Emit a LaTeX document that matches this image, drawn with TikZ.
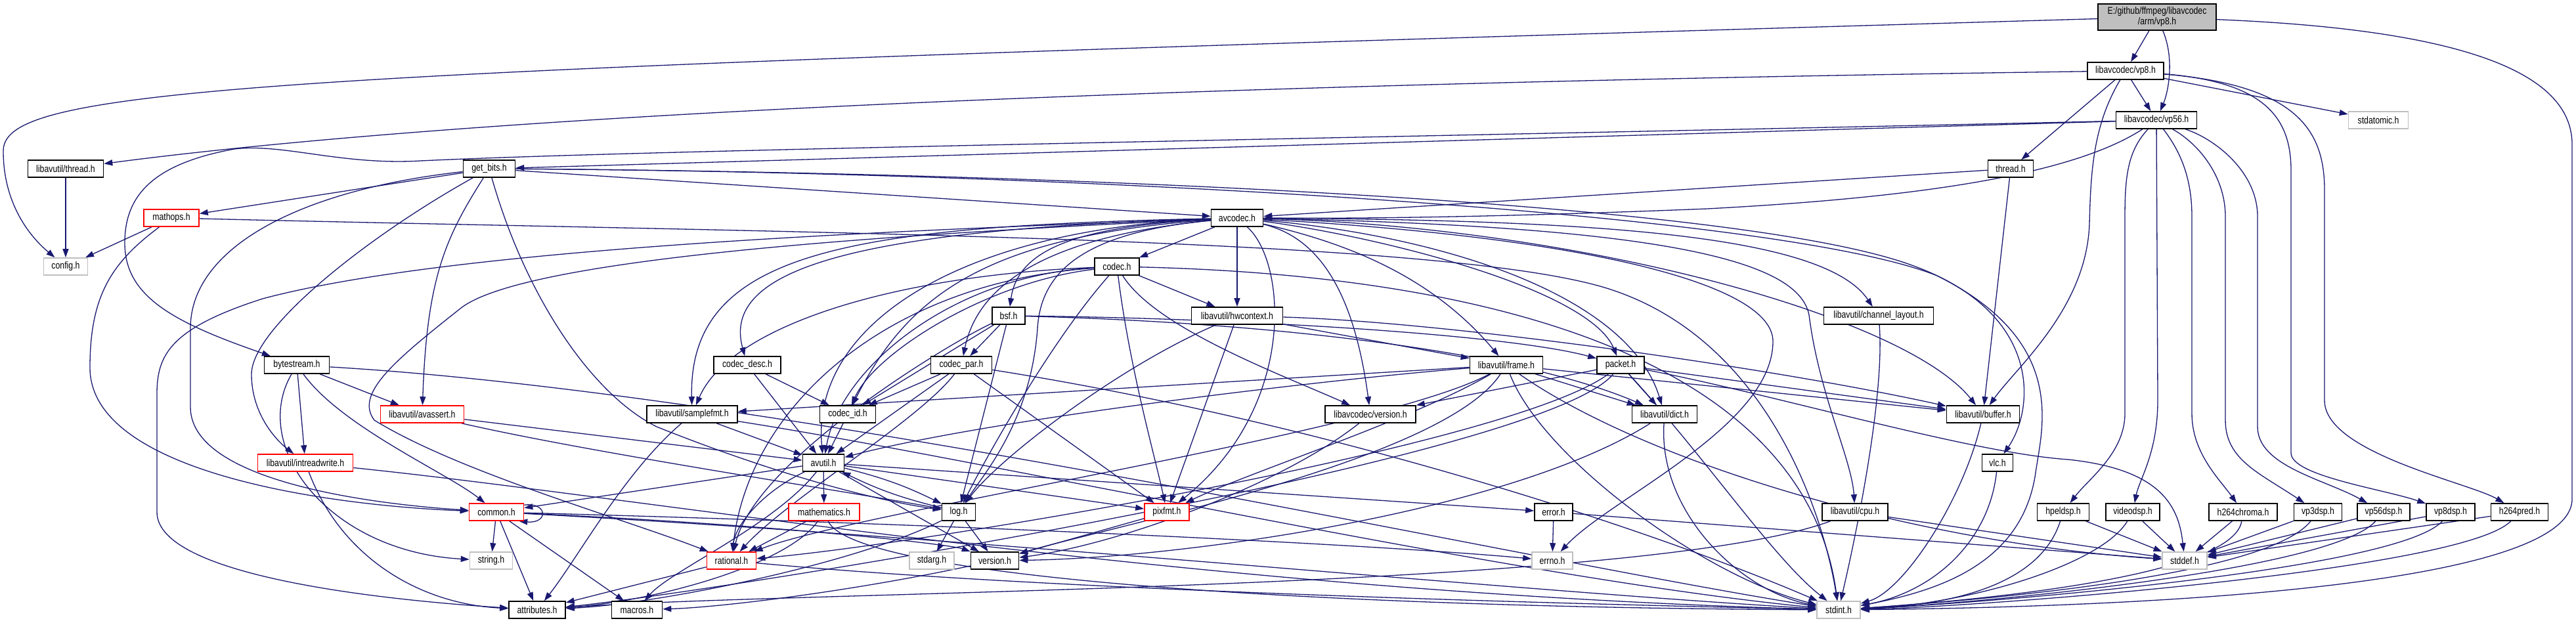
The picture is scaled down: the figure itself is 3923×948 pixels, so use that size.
\documentclass[tikz,border=0pt]{standalone}
\usepackage{fontspec}
\newfontfamily\nf{Liberation Sans}[FakeStretch=0.82]
\usetikzlibrary{arrows.meta}
\definecolor{ecol}{HTML}{191970}
\definecolor{gcol}{HTML}{BFBFBF}
\pgfdeclarelayer{edges}
\pgfsetlayers{edges,main}
\tikzset{
 bx/.style={draw=black, line width=1.6pt, fill=white, minimum height=26pt, inner sep=0pt, font=\nf\fontsize{15}{16}\selectfont},
 gbx/.style={bx, draw=gcol},
 rbx/.style={bx, draw=red},
 dep/.style={draw=ecol, line width=1.3pt, -{Triangle[length=13pt,width=9pt]}}
}
\begin{document}
\begin{tikzpicture}[x=1pt,y=-1pt]
\useasboundingbox (0,0) rectangle (3923,948);
% nodes
\node[bx,fill=gcol,minimum width=180pt,minimum height=40pt,align=center] (root) at (3285,26) {E:/github/ffmpeg/libavcodec\\/arm/vp8.h};
\node[bx,minimum width=116pt] (vp8) at (3237,108) {libavcodec/vp8.h};
\node[bx,minimum width=123pt] (vp56) at (3284,183) {libavcodec/vp56.h};
\node[gbx,minimum width=91pt] (stdatomic) at (3622,183) {stdatomic.h};
\node[bx,minimum width=115pt] (lthread) at (100,257) {libavutil/thread.h};
\node[bx,minimum width=79pt] (getbits) at (745,257) {get\_bits.h};
\node[bx,minimum width=69pt] (thread) at (3062,257) {thread.h};
\node[rbx,minimum width=84pt] (mathops) at (261,332) {mathops.h};
\node[bx,minimum width=79pt] (avcodec) at (1884,332) {avcodec.h};
\node[gbx,minimum width=67pt] (config) at (100,406) {config.h};
\node[bx,minimum width=68pt] (codec) at (1701,406) {codec.h};
\node[bx,minimum width=50pt] (bsf) at (1536,481) {bsf.h};
\node[bx,minimum width=139pt] (hwcontext) at (1884,481) {libavutil/hwcontext.h};
\node[bx,minimum width=167pt] (chlayout) at (2861,481) {libavutil/channel\_layout.h};
\node[bx,minimum width=99pt] (bytestream) at (452,556) {bytestream.h};
\node[bx,minimum width=102pt] (codecdesc) at (1138,556) {codec\_desc.h};
\node[bx,minimum width=93pt] (codecpar) at (1464,556) {codec\_par.h};
\node[bx,minimum width=111pt] (frame) at (2294,556) {libavutil/frame.h};
\node[bx,minimum width=72pt] (packet) at (2468,556) {packet.h};
\node[rbx,minimum width=127pt] (avassert) at (643,631) {libavutil/avassert.h};
\node[bx,minimum width=138pt] (samplefmt) at (1054,631) {libavutil/samplefmt.h};
\node[bx,minimum width=85pt] (codecid) at (1291,631) {codec\_id.h};
\node[bx,minimum width=138pt] (lavcversion) at (2087,631) {libavcodec/version.h};
\node[bx,minimum width=99pt] (dict) at (2535,631) {libavutil/dict.h};
\node[bx,minimum width=111pt] (buffer) at (3020,631) {libavutil/buffer.h};
\node[rbx,minimum width=145pt] (intreadwrite) at (465,705) {libavutil/intreadwrite.h};
\node[bx,minimum width=63pt] (avutil) at (1254,705) {avutil.h};
\node[bx,minimum width=47pt] (vlc) at (3042,705) {vlc.h};
\node[rbx,minimum width=83pt] (common) at (756,780) {common.h};
\node[rbx,minimum width=108pt] (mathematics) at (1255,780) {mathematics.h};
\node[bx,minimum width=51pt] (log) at (1460,780) {log.h};
\node[rbx,minimum width=68pt] (pixfmt) at (1777,780) {pixfmt.h};
\node[bx,minimum width=58pt] (error) at (2366,780) {error.h};
\node[bx,minimum width=100pt] (cpu) at (2825,780) {libavutil/cpu.h};
\node[bx,minimum width=79pt] (hpeldsp) at (3142,780) {hpeldsp.h};
\node[bx,minimum width=82pt] (videodsp) at (3248,780) {videodsp.h};
\node[bx,minimum width=104pt] (h264chroma) at (3416,780) {h264chroma.h};
\node[bx,minimum width=73pt] (vp3dsp) at (3530,780) {vp3dsp.h};
\node[bx,minimum width=80pt] (vp56dsp) at (3630,780) {vp56dsp.h};
\node[bx,minimum width=74pt] (vp8dsp) at (3732,780) {vp8dsp.h};
\node[bx,minimum width=87pt] (h264pred) at (3837,780) {h264pred.h};
\node[gbx,minimum width=65pt] (string) at (748,854) {string.h};
\node[rbx,minimum width=75pt] (rational) at (1114,854) {rational.h};
\node[gbx,minimum width=68pt] (stdarg) at (1419,854) {stdarg.h};
\node[bx,minimum width=73pt] (version) at (1515,854) {version.h};
\node[gbx,minimum width=62pt] (errno) at (2364,854) {errno.h};
\node[gbx,minimum width=68pt] (stddef) at (3327,854) {stddef.h};
\node[bx,minimum width=86pt] (attributes) at (818,929) {attributes.h};
\node[bx,minimum width=77pt] (macros) at (970,929) {macros.h};
\node[gbx,minimum width=66pt] (stdint) at (2800,929) {stdint.h};
\begin{pgfonlayer}{edges}
\fill[white] (0,0) rectangle (3923,948);
% root
\draw[dep] (root) -- (vp8);
\draw[dep] (root) .. controls (3312,90) and (3302,140) .. (vp56);
\draw[dep] (root) .. controls (400,110) and (5,130) .. (5,230) .. controls (5,310) and (45,360) .. (config);
\draw[dep] (root) .. controls (3750,45) and (3917,110) .. (3917,220) -- (3917,760) .. controls (3917,900) and (3200,925) .. (stdint);
% vp8
\draw[dep] (vp8) .. controls (2000,125) and (800,165) .. (lthread);
\draw[dep] (vp8) -- (stdatomic);
\draw[dep] (vp8) -- (thread);
\draw[dep] (vp8) -- (vp56);
\draw[dep] (vp8) .. controls (3188,190) and (3184,260) .. (3182,340) .. controls (3178,470) and (3070,560) .. (buffer);
\draw[dep] (vp8) .. controls (3450,125) and (3489,180) .. (3489,260) -- (3489,690) .. controls (3489,725) and (3630,745) .. (vp8dsp);
\draw[dep] (vp8) .. controls (3500,130) and (3540,200) .. (3540,290) -- (3540,610) .. controls (3540,690) and (3760,735) .. (h264pred);
% vp56
\draw[dep] (vp56) -- (getbits);
\draw[dep] (vp56) .. controls (2000,212) and (1000,228) .. (640,245) .. controls (520,252) and (430,218) .. (357,227) .. controls (230,250) and (190,300) .. (190,370) .. controls (190,450) and (260,490) .. (bytestream);
\draw[dep] (vp56) .. controls (3150,270) and (2900,302) .. (2600,318) .. controls (2300,330) and (2100,333) .. (avcodec);
\draw[dep] (vp56) .. controls (3240,230) and (3236,270) .. (3236,330) -- (3236,630) .. controls (3236,690) and (3180,730) .. (hpeldsp);
\draw[dep] (vp56) -- (3286,610) .. controls (3286,690) and (3258,730) .. (videodsp);
\draw[dep] (vp56) .. controls (3320,230) and (3338,270) .. (3338,330) -- (3338,630) .. controls (3338,690) and (3380,730) .. (h264chroma);
\draw[dep] (vp56) .. controls (3350,220) and (3389,270) .. (3389,330) -- (3389,640) .. controls (3389,700) and (3440,720) .. (vp3dsp);
\draw[dep] (vp56) .. controls (3370,210) and (3438,260) .. (3438,330) -- (3438,650) .. controls (3438,710) and (3540,730) .. (vp56dsp);
% thread
\draw[dep] (thread) -- (avcodec);
\draw[dep] (thread) -- (buffer);
\draw[dep] (lthread) -- (config);
% get_bits
\draw[dep] (getbits) -- (mathops);
\draw[dep] (getbits) .. controls (450,290) and (290,380) .. (290,500) -- (290,620) .. controls (290,740) and (600,770) .. (common);
\draw[dep] (getbits) .. controls (560,360) and (383,500) .. (383,570) .. controls (383,630) and (420,670) .. (intreadwrite);
\draw[dep] (getbits) .. controls (680,360) and (650,420) .. (avassert);
\draw[dep] (getbits) .. controls (800,450) and (900,600) .. (1000,650) .. controls (1200,730) and (1350,765) .. (log);
\draw[dep] (getbits) -- (avcodec);
\draw[dep] (getbits) .. controls (1500,262) and (2600,300) .. (2900,400) .. controls (3110,470) and (3100,620) .. (vlc);
\draw[dep] (getbits) .. controls (1600,262) and (2700,320) .. (2950,420) .. controls (3150,520) and (3110,650) .. (3100,720) .. controls (3080,860) and (2950,900) .. (stdint);
% mathops
\draw[dep] (mathops) -- (config);
\draw[dep] (mathops) .. controls (170,400) and (137,450) .. (137,560) .. controls (137,720) and (500,770) .. (common);
\draw[dep] (mathops) .. controls (1200,355) and (2200,360) .. (2450,440) .. controls (2700,520) and (2780,800) .. (stdint);
% avcodec
\draw[dep] (avcodec) -- (codec);
\draw[dep] (avcodec) -- (hwcontext);
\draw[dep] (avcodec) .. controls (1640,345) and (1550,380) .. (bsf);
\draw[dep] (avcodec) .. controls (1300,350) and (1098,410) .. (codecdesc);
\draw[dep] (avcodec) .. controls (1300,345) and (1048,380) .. (samplefmt);
\draw[dep] (avcodec) .. controls (1500,360) and (1383,450) .. (codecid);
\draw[dep] (avcodec) .. controls (1450,350) and (1235,500) .. (avutil);
\draw[dep] (avcodec) .. controls (1600,360) and (1490,430) .. (codecpar);
\draw[dep] (avcodec) .. controls (1640,355) and (1585,420) .. (1580,500) .. controls (1570,640) and (1500,720) .. (log);
\draw[dep] (avcodec) .. controls (1400,355) and (800,390) .. (701,470) .. controls (600,550) and (540,600) .. (570,640) .. controls (700,720) and (950,790) .. (rational);
\draw[dep] (avcodec) .. controls (1400,350) and (700,375) .. (400,455) .. controls (260,500) and (239,540) .. (239,600) -- (239,780) .. controls (239,880) and (600,915) .. (attributes);
\draw[dep] (avcodec) .. controls (1960,400) and (1975,620) .. (pixfmt);
\draw[dep] (avcodec) .. controls (2050,370) and (2180,420) .. (frame);
\draw[dep] (avcodec) .. controls (2100,360) and (2420,440) .. (packet);
\draw[dep] (avcodec) .. controls (2200,360) and (2480,450) .. (dict);
\draw[dep] (avcodec) .. controls (2400,345) and (2900,480) .. (buffer);
\draw[dep] (avcodec) .. controls (2450,335) and (2780,360) .. (chlayout);
\draw[dep] (avcodec) .. controls (2550,345) and (2740,400) .. (2755,480) .. controls (2770,600) and (2820,700) .. (cpu);
\draw[dep] (avcodec) .. controls (2000,360) and (2060,430) .. (lavcversion);
\draw[dep] (avcodec) .. controls (2400,360) and (2700,430) .. (2700,520) .. controls (2700,650) and (2450,760) .. (errno);
% codec
\draw[dep] (codec) -- (hwcontext);
\draw[dep] (codec) .. controls (1450,420) and (1280,560) .. (avutil);
\draw[dep] (codec) .. controls (1600,520) and (1500,700) .. (log);
\draw[dep] (codec) .. controls (1720,560) and (1760,700) .. (pixfmt);
\draw[dep] (codec) .. controls (1350,430) and (1140,620) .. (rational);
\draw[dep] (codec) .. controls (1350,420) and (1110,500) .. (samplefmt);
\draw[dep] (codec) .. controls (1500,430) and (1330,540) .. (codecid);
\draw[dep] (codec) .. controls (1760,500) and (1950,570) .. (lavcversion);
\draw[dep] (codec) .. controls (2300,420) and (2750,560) .. (stdint);
% bsf
\draw[dep] (bsf) .. controls (1900,490) and (2300,530) .. (dict);
\draw[dep] (bsf) -- (log);
\draw[dep] (bsf) .. controls (1450,520) and (1150,700) .. (rational);
\draw[dep] (bsf) -- (codecid);
\draw[dep] (bsf) -- (codecpar);
\draw[dep] (bsf) .. controls (1900,485) and (2300,510) .. (packet);
% codec_desc, codec_par, codec_id
\draw[dep] (codecdesc) -- (avutil);
\draw[dep] (codecdesc) -- (codecid);
\draw[dep] (codecpar) -- (codecid);
\draw[dep] (codecpar) -- (avutil);
\draw[dep] (codecpar) -- (pixfmt);
\draw[dep] (codecpar) .. controls (1400,640) and (1200,760) .. (rational);
\draw[dep] (codecpar) .. controls (2000,640) and (2500,800) .. (stdint);
\draw[dep] (codecid) -- (avutil);
% frame
\draw[dep] (frame) -- (samplefmt);
\draw[dep] (frame) .. controls (2000,580) and (1500,640) .. (avutil);
\draw[dep] (frame) -- (dict);
\draw[dep] (frame) -- (buffer);
\draw[dep] (frame) .. controls (2150,640) and (1900,720) .. (pixfmt);
\draw[dep] (frame) .. controls (2100,660) and (1300,780) .. (rational);
\draw[dep] (frame) .. controls (2200,700) and (1700,800) .. (version);
\draw[dep] (frame) .. controls (2500,700) and (2900,825) .. (stddef);
\draw[dep] (frame) .. controls (2350,700) and (2600,880) .. (stdint);
% packet
\draw[dep] (packet) -- (lavcversion);
\draw[dep] (packet) -- (dict);
\draw[dep] (packet) -- (buffer);
\draw[dep] (packet) .. controls (2300,680) and (1400,830) .. (rational);
\draw[dep] (packet) .. controls (2350,700) and (1100,900) .. (attributes);
\draw[dep] (packet) .. controls (2700,600) and (3000,690) .. (3150,700) .. controls (3290,715) and (3318,770) .. (stddef);
\draw[dep] (packet) .. controls (2600,700) and (2700,850) .. (stdint);
% hwcontext
\draw[dep] (hwcontext) -- (frame);
\draw[dep] (hwcontext) .. controls (2200,490) and (2700,560) .. (buffer);
\draw[dep] (hwcontext) .. controls (1700,560) and (1520,700) .. (log);
\draw[dep] (hwcontext) -- (pixfmt);
% misc
\draw[dep] (chlayout) .. controls (2870,600) and (2830,800) .. (stdint);
\draw[dep] (samplefmt) -- (avutil);
\draw[dep] (samplefmt) .. controls (950,720) and (880,850) .. (attributes);
\draw[dep] (samplefmt) .. controls (1500,700) and (2300,880) .. (stdint);
\draw[dep] (lavcversion) .. controls (1950,740) and (1700,830) .. (version);
\draw[dep] (dict) .. controls (2300,780) and (1800,850) .. (version);
\draw[dep] (dict) .. controls (2525,780) and (2650,900) .. (stdint);
\draw[dep] (buffer) .. controls (2990,760) and (2900,900) .. (stdint);
\draw[dep] (cpu) .. controls (2500,900) and (1200,900) .. (attributes);
\draw[dep] (cpu) -- (stddef);
\draw[dep] (vlc) .. controls (3030,820) and (2950,900) .. (stdint);
% avutil
\draw[dep] (avutil) -- (common);
\draw[dep] (avutil) -- (error);
\draw[dep] (avutil) .. controls (1160,750) and (1120,800) .. (rational);
\draw[dep] (avutil) -- (version);
\draw[dep] (avutil) .. controls (1180,800) and (1020,870) .. (macros);
\draw[dep] (avutil) -- (mathematics);
\draw[dep] (avutil) to[bend left=6] (log);
\draw[dep] (avutil) -- (pixfmt);
% log
\draw[dep] (log) -- (stdarg);
\draw[dep] (log) -- (version);
\draw[dep] (log) to[bend left=6] (avutil);
\draw[dep] (log) .. controls (1300,860) and (1000,920) .. (attributes);
% mathematics, rational, pixfmt, version, error
\draw[dep] (mathematics) -- (rational);
\draw[dep] (mathematics) .. controls (1200,860) and (1000,915) .. (attributes);
\draw[dep] (mathematics) .. controls (1300,880) and (2000,925) .. (stdint);
\draw[dep] (rational) -- (attributes);
\draw[dep] (rational) .. controls (1600,900) and (2400,920) .. (stdint);
\draw[dep] (pixfmt) -- (version);
\draw[dep] (version) .. controls (1300,900) and (1100,925) .. (macros);
\draw[dep] (error) -- (errno);
\draw[dep] (error) -- (stddef);
% common
\draw[dep] (common) -- (string);
\draw[dep] (common) -- (attributes);
\draw[dep] (common) -- (macros);
\draw[dep] (common) .. controls (1200,800) and (1450,830) .. (version);
\draw[dep] (common) .. controls (1500,800) and (2100,830) .. (errno);
\draw[dep] (common) .. controls (1500,820) and (2300,900) .. (stdint);
\draw[dep] ([yshift=-3pt]common.north east) .. controls (835,765) and (835,798) .. ([xshift=-8pt]common.south east);
% intreadwrite, avassert, bytestream
\draw[dep] (intreadwrite) .. controls (520,850) and (640,920) .. (attributes);
\draw[dep] (intreadwrite) .. controls (1000,760) and (1800,900) .. (stdint);
\draw[dep] (avassert) -- (avutil);
\draw[dep] (avassert) .. controls (900,690) and (1300,750) .. (log);
\draw[dep] (bytestream) -- (avassert);
\draw[dep] (bytestream) -- (intreadwrite);
\draw[dep] (bytestream) .. controls (520,650) and (680,720) .. (common);
\draw[dep] (bytestream) .. controls (380,680) and (500,840) .. (string);
\draw[dep] (bytestream) .. controls (1200,600) and (2300,850) .. (stdint);
% dsp headers
\draw[dep] (hpeldsp) -- (stddef);
\draw[dep] (hpeldsp) .. controls (3110,880) and (3000,920) .. (stdint);
\draw[dep] (videodsp) -- (stddef);
\draw[dep] (videodsp) .. controls (3200,860) and (3000,920) .. (stdint);
\draw[dep] (h264chroma) -- (stddef);
\draw[dep] (h264chroma) .. controls (3400,880) and (3000,915) .. (stdint);
\draw[dep] (vp3dsp) -- (stddef);
\draw[dep] (vp3dsp) .. controls (3450,880) and (3000,915) .. (stdint);
\draw[dep] (vp56dsp) -- (stddef);
\draw[dep] (vp56dsp) .. controls (3550,870) and (3000,920) .. (stdint);
\draw[dep] (vp8dsp) -- (stddef);
\draw[dep] (vp8dsp) .. controls (3650,870) and (3000,920) .. (stdint);
\draw[dep] (h264pred) -- (stddef);
\draw[dep] (h264pred) .. controls (3750,870) and (3000,925) .. (stdint);
\end{pgfonlayer}
\end{tikzpicture}
\end{document}
